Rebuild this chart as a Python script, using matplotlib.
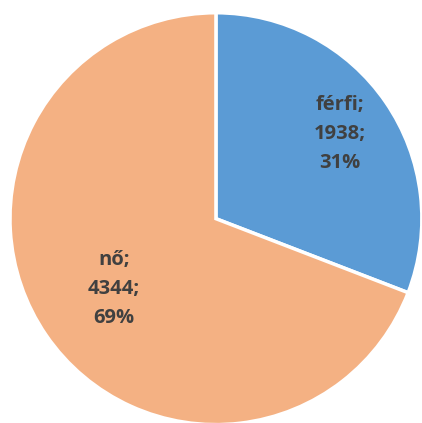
import numpy as np
import matplotlib.pyplot as plt

labels = ['férfi', 'nő']
values = [1938, 4344]
colors = ['#5B9BD5', '#F4B183']
label_radius = [0.73, 0.60]

fig = plt.figure(figsize=(4.22, 4.23), dpi=100)
ax = fig.add_axes([0.0237, -0.005, 0.976, 0.976])

wedges, _ = ax.pie(values, colors=colors, startangle=90, counterclock=False,
                   wedgeprops=dict(edgecolor='white', linewidth=2.5))

total = sum(values)
for w, lab, v, r in zip(wedges, labels, values, label_radius):
    ang = np.deg2rad((w.theta1 + w.theta2) / 2)
    pct = round(100 * v / total)
    ax.text(r * np.cos(ang), r * np.sin(ang), f'{lab};\n{v};\n{pct}%',
            ha='center', va='center', fontsize=14.5, fontweight='bold',
            color='#404040', linespacing=1.6, family='Open Sans')

ax.set_xlim(-1, 1)
ax.set_ylim(-1, 1)
ax.set_aspect('equal')
fig.savefig('out.png', dpi=100, facecolor='white')
